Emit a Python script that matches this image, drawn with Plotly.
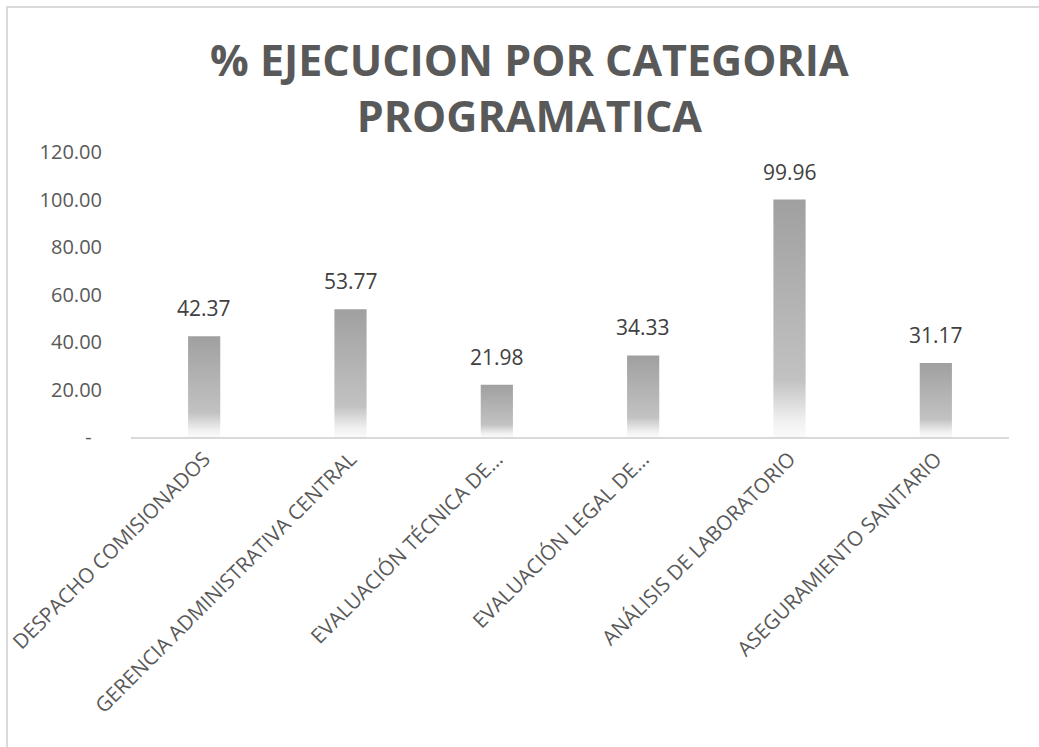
import plotly.graph_objects as go

categories = [
    "DESPACHO COMISIONADOS",
    "GERENCIA ADMINISTRATIVA CENTRAL",
    "EVALUACIÓN TÉCNICA DE...",
    "EVALUACIÓN LEGAL DE...",
    "ANÁLISIS DE LABORATORIO",
    "ASEGURAMIENTO SANITARIO",
]
values = [42.37, 53.77, 21.98, 34.33, 99.96, 31.17]
y_tickvals = [0, 20, 40, 60, 80, 100, 120]
y_ticktext = ["-\u00a0\u00a0", "20.00", "40.00", "60.00", "80.00", "100.00", "120.00"]
title_text = "<b>% EJECUCION POR CATEGORIA<br>PROGRAMATICA</b>"

W, H = 1039, 747
ML, MR, MT, MB = 131, 30, 152, 310
PW, PH = W - ML - MR, H - MT - MB
BAR_HALF = 0.11

grad = [[0.0, "#fafafa"], [0.07, "#f0f0f0"], [0.24, "#c2c2c2"], [1.0, "#a0a0a0"]]
text_color = "#595959"

fig = go.Figure()
for i, v in enumerate(values):
    fig.add_trace(go.Scatter(
        x=[i - BAR_HALF, i + BAR_HALF, i + BAR_HALF, i - BAR_HALF, i - BAR_HALF],
        y=[0, 0, v, v, 0],
        mode="lines", line=dict(width=0),
        fill="toself",
        fillgradient=dict(type="vertical", colorscale=grad),
        hoverinfo="skip", showlegend=False,
    ))

annotations = [
    dict(x=i, y=v, xref="x", yref="y", text=f"{v:.2f}", showarrow=False,
         xanchor="center", yanchor="bottom", yshift=12,
         font=dict(family="Open Sans", size=21, color="#404040"))
    for i, v in enumerate(values)
]
annotations.append(dict(
    x=(529 - ML) / PW, y=(H - MB - 88) / PH, xref="paper", yref="paper",
    text=title_text, showarrow=False, xanchor="center", yanchor="middle",
    font=dict(family="Open Sans", size=43, color=text_color),
))

fig.update_layout(
    width=W, height=H,
    margin=dict(l=ML, r=MR, t=MT, b=MB, autoexpand=False),
    paper_bgcolor="white", plot_bgcolor="white",
    annotations=annotations,
    xaxis=dict(range=[-0.5, len(values) - 0.5], tickvals=list(range(len(values))), ticktext=categories,
               tickangle=-45, showgrid=False, zeroline=False, showline=True, linecolor="#d9d9d9", linewidth=2,
               ticks="", tickfont=dict(family="Open Sans", size=20.5, color=text_color), fixedrange=True),
    yaxis=dict(range=[0, 120], tickvals=y_tickvals, ticktext=y_ticktext, showgrid=False, zeroline=False,
               showline=False, ticks="", ticklabelstandoff=28,
               tickfont=dict(family="Open Sans", size=20, color=text_color), fixedrange=True),
    shapes=[dict(type="rect", xref="paper", yref="paper",
                 x0=(7 - ML) / PW, x1=(W + 10 - ML) / PW,
                 y0=(H - MB - (H + 10)) / PH, y1=(H - MB - 7) / PH,
                 line=dict(color="#d9d9d9", width=2), layer="below")],
)
fig.write_html("out.html", config={"displayModeBar": False},
               post_script="document.body.style.margin='0';document.body.style.overflow='hidden';")
